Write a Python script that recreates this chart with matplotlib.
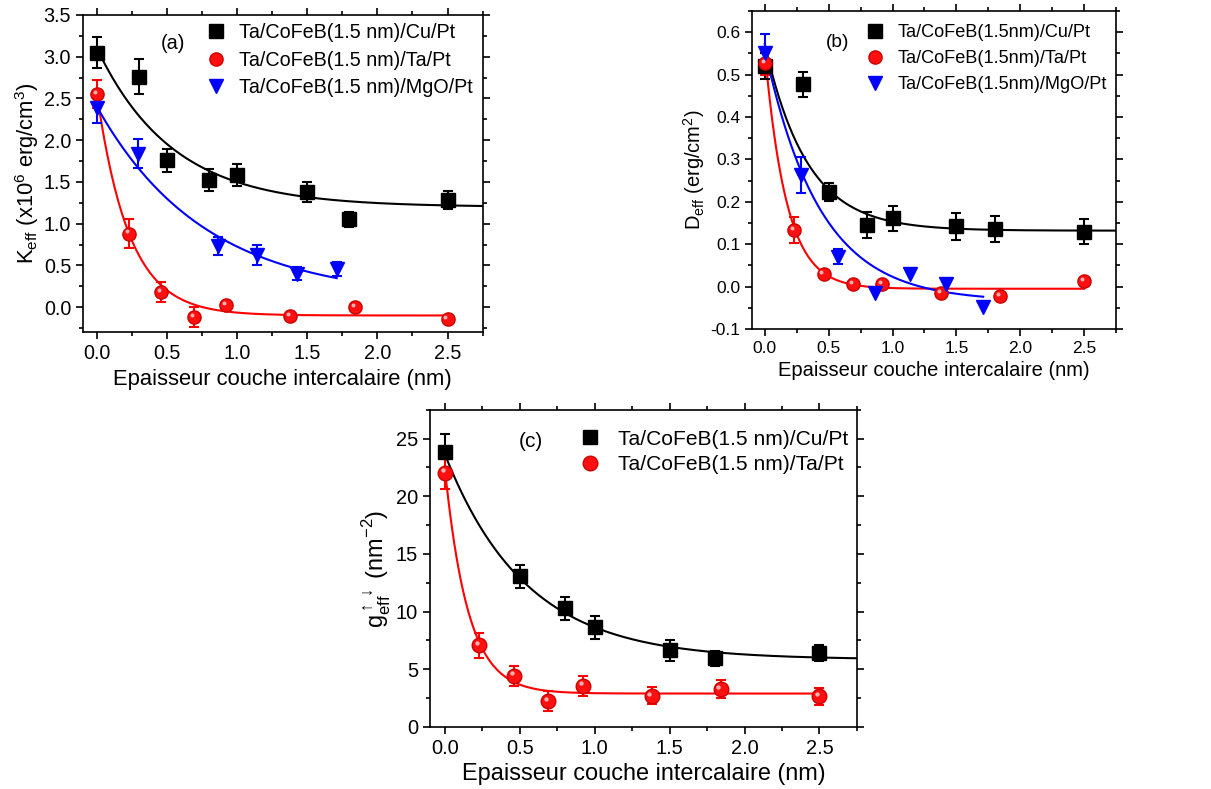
import numpy as np
import matplotlib
matplotlib.use("Agg")
import matplotlib.pyplot as plt
from matplotlib.ticker import MultipleLocator, FormatStrFormatter
from matplotlib.transforms import offset_copy

plt.rcParams['font.family'] = ['Liberation Sans', 'DejaVu Sans']
plt.rcParams['mathtext.fontset'] = 'custom'
plt.rcParams['mathtext.rm'] = 'Liberation Sans'
plt.rcParams['axes.unicode_minus'] = False

# ==============================
# Donnees
# (a) K_eff
xa_cu = [0.0, 0.3, 0.5, 0.8, 1.0, 1.5, 1.8, 2.5]
ya_cu = [3.05, 2.76, 1.76, 1.52, 1.58, 1.38, 1.05, 1.28]
ea_cu = [0.19, 0.21, 0.14, 0.13, 0.13, 0.12, 0.09, 0.11]
xa_ta = [0.0, 0.23, 0.46, 0.69, 0.92, 1.38, 1.84, 2.5]
ya_ta = [2.55, 0.88, 0.18, -0.12, 0.02, -0.11, 0.0, -0.14]
ea_ta = [0.17, 0.17, 0.12, 0.12, 0.0, 0.0, 0.0, 0.0]
xa_mg = [0.0, 0.29, 0.86, 1.14, 1.43, 1.71]
ya_mg = [2.39, 1.84, 0.73, 0.63, 0.40, 0.455]
ea_mg = [0.19, 0.17, 0.11, 0.12, 0.08, 0.085]

# (b) D_eff
xb_cu = [0.0, 0.3, 0.5, 0.8, 1.0, 1.5, 1.8, 2.5]
yb_cu = [0.52, 0.477, 0.224, 0.145, 0.161, 0.142, 0.136, 0.13]
eb_cu = [0.03, 0.03, 0.021, 0.03, 0.03, 0.032, 0.031, 0.03]
xb_ta = [0.0, 0.23, 0.46, 0.69, 0.92, 1.38, 1.84, 2.5]
yb_ta = [0.528, 0.134, 0.030, 0.006, 0.005, -0.016, -0.022, 0.013]
eb_ta = [0.03, 0.03, 0.0, 0.0, 0.0, 0.0, 0.0, 0.0]
xb_mg = [0.0, 0.28, 0.57, 0.86, 1.14, 1.42, 1.71]
yb_mg = [0.55, 0.263, 0.071, -0.016, 0.03, 0.006, -0.049]
eb_mg = [0.045, 0.043, 0.017, 0.0, 0.0, 0.0, 0.0]

# (c) g_eff
xc_cu = [0.0, 0.5, 0.8, 1.0, 1.5, 1.8, 2.5]
yc_cu = [23.87, 13.05, 10.3, 8.66, 6.64, 5.98, 6.41]
ec_cu = [1.5, 1.0, 1.0, 1.0, 0.92, 0.65, 0.72]
xc_ta = [0.0, 0.23, 0.46, 0.69, 0.92, 1.38, 1.84, 2.5]
yc_ta = [22.06, 7.07, 4.45, 2.22, 3.58, 2.71, 3.29, 2.66]
ec_ta = [1.4, 1.07, 0.87, 0.87, 0.87, 0.72, 0.8, 0.72]

# Parametres des ajustements ExpDec1 : y0, A, t, x_fin
fit_a = {'cu': (1.2, 1.9, 0.54, 2.75), 'ta': (-0.1, 2.65, 0.23, 2.5), 'mg': (0.1, 2.3, 0.767, 1.71)}
fit_b = {'cu': (0.132, 0.44, 0.33, 2.75), 'ta': (-0.005, 0.56, 0.17, 2.5), 'mg': (-0.035, 0.595, 0.43, 1.71)}
fit_c = {'cu': (5.85, 17.8, 0.54, 2.75), 'ta': (2.9, 19.5, 0.155, 2.5)}

labels_a = ["Ta/CoFeB(1.5 nm)/Cu/Pt", "Ta/CoFeB(1.5 nm)/Ta/Pt", "Ta/CoFeB(1.5 nm)/MgO/Pt"]
labels_b = ["Ta/CoFeB(1.5nm)/Cu/Pt", "Ta/CoFeB(1.5nm)/Ta/Pt", "Ta/CoFeB(1.5nm)/MgO/Pt"]
labels_c = ["Ta/CoFeB(1.5 nm)/Cu/Pt", "Ta/CoFeB(1.5 nm)/Ta/Pt"]

styles = {
    'cu': dict(marker='s', color='black', mfc='black', mec='black', k=1.0),
    'ta': dict(marker='o', color='red', mfc='#ff1010', mec='#cc0000', k=1.0),
    'mg': dict(marker='v', color='blue', mfc='blue', mec='blue', k=1.12),
}


def expdec(p):
    y0, A, t, xend = p
    x = np.linspace(0, xend, 200)
    return x, y0 + A * np.exp(-x / t)


def draw(ax, series, fits, labels, ms):
    for (key, x, y, e), lab in zip(series, labels):
        st = styles[key]
        xf, yf = expdec(fits[key])
        ax.plot(xf, yf, color=st['color'], lw=1.5, zorder=2)
        e = np.array(e)
        m = e > 0
        ax.errorbar(np.array(x)[m], np.array(y)[m], yerr=e[m], fmt='none',
                    ecolor=st['color'], elinewidth=1.5, capsize=3.5, capthick=1.5, zorder=3)
        ax.plot(x, y, linestyle='none', marker=st['marker'], mfc=st['mfc'],
                mec=st['mec'], ms=ms * st['k'], label=lab, zorder=4)
        if key == 'ta':
            # petit reflet pour l'effet "sphere"
            tr = offset_copy(ax.transData, fig=ax.figure, x=-1.6, y=1.6, units='points')
            ax.plot(x, y, linestyle='none', marker='o', mfc='#ffb0b0', mec='none',
                    ms=ms * 0.3, transform=tr, zorder=5)


def style_axes(ax, ymaj, ymin, yfmt, s, tick_fs):
    ax.set_xlim(-0.1, 2.75)
    ax.xaxis.set_major_locator(MultipleLocator(0.5))
    ax.xaxis.set_minor_locator(MultipleLocator(0.25))
    ax.xaxis.set_major_formatter(FormatStrFormatter('%.1f'))
    ax.yaxis.set_major_locator(MultipleLocator(ymaj))
    ax.yaxis.set_minor_locator(MultipleLocator(ymin))
    ax.yaxis.set_major_formatter(FormatStrFormatter(yfmt))
    ax.tick_params(which='both', direction='out', top=True, right=True, width=1.2)
    ax.tick_params(which='major', length=5, labelsize=tick_fs)
    ax.tick_params(which='minor', length=3)
    for sp in ax.spines.values():
        sp.set_linewidth(1.2)
    ax.set_xlabel("Epaisseur couche intercalaire (nm)", fontsize=14.5 * s, labelpad=4)


fig = plt.figure(figsize=(12.11, 7.89), dpi=100)

# ---- (a)
sa = 1.09
ax1 = fig.add_axes([0.0685, 0.579, 0.330, 0.402])
draw(ax1, [('cu', xa_cu, ya_cu, ea_cu), ('ta', xa_ta, ya_ta, ea_ta), ('mg', xa_mg, ya_mg, ea_mg)],
     fit_a, labels_a, 9.5)
ax1.set_ylim(-0.3, 3.5)
style_axes(ax1, 0.5, 0.25, '%.1f', sa, 14.2)
ax1.set_ylabel(r"K$_{\mathregular{eff}}$ (x10$^{\mathregular{6}}$ erg/cm$^{\mathregular{3}}$)", fontsize=14.5 * sa, labelpad=2)
ax1.text(0.225, 0.91, "(a)", transform=ax1.transAxes, fontsize=14.3, ha='center', va='center')
ax1.legend(loc='upper right', bbox_to_anchor=(0.975, 0.975), frameon=False, fontsize=14.2,
           handletextpad=0.17, labelspacing=0.44, borderaxespad=0, borderpad=0)

# ---- (b)
sb = 1.0
ax2 = fig.add_axes([0.621, 0.583, 0.3006, 0.403])
draw(ax2, [('cu', xb_cu, yb_cu, eb_cu), ('ta', xb_ta, yb_ta, eb_ta), ('mg', xb_mg, yb_mg, eb_mg)],
     fit_b, labels_b, 9.5)
ax2.set_ylim(-0.1, 0.65)
style_axes(ax2, 0.1, 0.05, '%.1f', sb, 12.5)
ax2.set_ylabel(r"D$_{\mathregular{eff}}$ (erg/cm$^{\mathregular{2}}$)", fontsize=14.5 * sb, labelpad=2)
ax2.text(0.236, 0.90, "(b)", transform=ax2.transAxes, fontsize=13.8, ha='center', va='center')
ax2.legend(loc='upper right', bbox_to_anchor=(0.975, 0.959), frameon=False, fontsize=13.1,
           handletextpad=0.26, labelspacing=0.50, borderaxespad=0, borderpad=0)

# ---- (c)
sc = 1.17
ax3 = fig.add_axes([0.355, 0.0786, 0.3526, 0.402])
draw(ax3, [('cu', xc_cu, yc_cu, ec_cu), ('ta', xc_ta, yc_ta, ec_ta)], fit_c, labels_c, 10.5)
ax3.set_ylim(0, 27.5)
style_axes(ax3, 5, 2.5, '%d', sc, 14.4)
ax3.set_ylabel(r"g$_{\mathregular{eff}}^{\mathregular{\uparrow\downarrow}}$ (nm$^{\mathregular{-2}}$)", fontsize=14.5 * sc, labelpad=2)
ax3.text(0.236, 0.90, "(c)", transform=ax3.transAxes, fontsize=15, ha='center', va='center')
ax3.legend(loc='upper right', bbox_to_anchor=(0.979, 0.937), frameon=False, fontsize=15.1,
           handletextpad=0.33, labelspacing=0.31, borderaxespad=0, borderpad=0)

fig.savefig("out.png", dpi=100)
